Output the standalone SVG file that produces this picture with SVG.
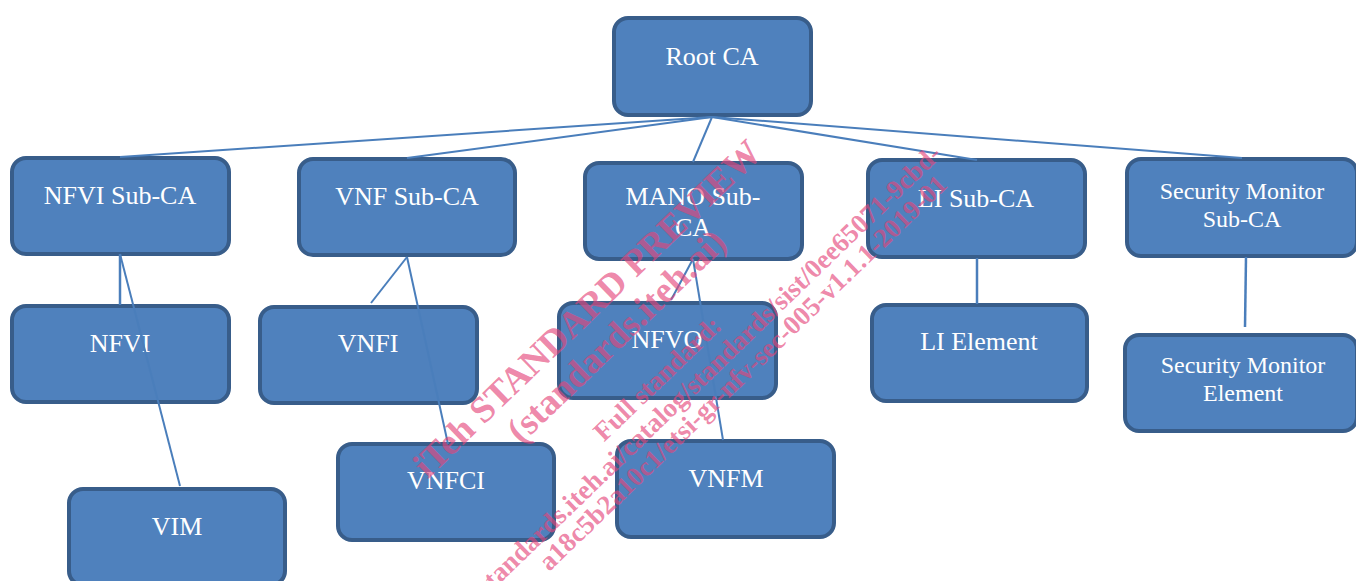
<svg xmlns="http://www.w3.org/2000/svg" width="1356" height="581" viewBox="0 0 1356 581">
<style>
.box{fill:#4f81bd;stroke:#385d8a;stroke-width:4}
.lbl{font-family:"Liberation Serif","Times New Roman",serif;font-size:26px;fill:#ffffff;text-anchor:middle}
.sm{font-size:24px}
.con line{stroke:#4a7ebb;stroke-width:2;fill:none}
.wm{font-family:"Liberation Serif","Times New Roman",serif;font-weight:bold;fill:#e4457a;fill-opacity:0.65}
</style>
<rect width="1356" height="581" fill="#ffffff"/>
<g id="root"><rect class="box" x="614" y="18" width="197" height="97" rx="14"/><text class="lbl" x="712" y="65">Root CA</text></g>
<g id="nfvi-sub-ca"><rect class="box" x="12" y="158" width="217" height="96" rx="14"/><text class="lbl" x="120" y="204">NFVI Sub-CA</text></g>
<g id="nfvi"><rect class="box" x="12" y="306" width="217" height="96" rx="14"/><text class="lbl" x="120" y="352">NFVI</text></g>
<g id="vim"><rect class="box" x="69" y="489" width="216" height="96" rx="14"/><text class="lbl" x="177" y="535">VIM</text></g>
<g id="vnf-sub-ca"><rect class="box" x="299" y="159" width="216" height="96" rx="14"/><text class="lbl" x="407" y="205">VNF Sub-CA</text></g>
<g id="vnfi"><rect class="box" x="260" y="307" width="217" height="96" rx="14"/><text class="lbl" x="368" y="352">VNFI</text></g>
<g id="vnfci"><rect class="box" x="338" y="444" width="216" height="96" rx="14"/><text class="lbl" x="446" y="489">VNFCI</text></g>
<g id="mano-sub-ca"><rect class="box" x="585" y="163" width="217" height="96" rx="14"/><text class="lbl" x="693" y="205">MANO Sub-</text><text class="lbl" x="693" y="236">CA</text></g>
<g id="nfvo"><rect class="box" x="559" y="303" width="217" height="95" rx="14"/><text class="lbl" x="667" y="348">NFVO</text></g>
<g id="vnfm"><rect class="box" x="617" y="441" width="217" height="96" rx="14"/><text class="lbl" x="726" y="487">VNFM</text></g>
<g id="li-sub-ca"><rect class="box" x="868" y="160" width="217" height="97" rx="14"/><text class="lbl" x="976" y="207">LI Sub-CA</text></g>
<g id="li-element"><rect class="box" x="872" y="305" width="215" height="96" rx="14"/><text class="lbl" x="979" y="350">LI Element</text></g>
<g id="sm-sub-ca"><rect class="box" x="1127" y="159" width="230" height="97" rx="14"/><text class="lbl sm" x="1242" y="199">Security Monitor</text><text class="lbl sm" x="1242" y="227">Sub-CA</text></g>
<g id="sm-element"><rect class="box" x="1125" y="335" width="232" height="96" rx="14"/><text class="lbl sm" x="1243" y="373">Security Monitor</text><text class="lbl sm" x="1243" y="401">Element</text></g>
<g id="connectors" class="con">
<line x1="712" y1="117" x2="120" y2="157"/>
<line x1="712" y1="117" x2="407" y2="158"/>
<line x1="712" y1="117" x2="693" y2="162"/>
<line x1="712" y1="117" x2="977" y2="160"/>
<line x1="712" y1="117" x2="1242" y2="158"/>
<line x1="120" y1="254" x2="120" y2="305" style="stroke-width:2.5"/>
<line x1="120" y1="254" x2="180" y2="486"/>
<line x1="407" y1="257" x2="371" y2="303"/>
<line x1="407" y1="257" x2="448" y2="444"/>
<line x1="693" y1="259" x2="671" y2="300"/>
<line x1="693" y1="259" x2="723" y2="440"/>
<line x1="977" y1="258" x2="977" y2="304" style="stroke-width:2.5"/>
<line x1="1246" y1="257" x2="1245" y2="327" style="stroke-width:2.5"/>
</g>
<g id="watermark" class="wm" transform="rotate(-44)">
<text x="208" y="642" font-size="37" text-anchor="middle">iTeh STANDARD PREVIEW</text>
<text x="210" y="682" font-size="37" text-anchor="middle">(standards.iteh.ai)</text>
<text x="210" y="738" font-size="27" text-anchor="middle">Full standard:</text>
<text x="570" y="767" font-size="27" text-anchor="end">https://standards.iteh.ai/catalog/standards/sist/0ee65071-9cbd-</text>
<text x="553" y="793" font-size="27" text-anchor="end">a18c5b2a10c1/etsi-gr-nfv-sec-005-v1.1.1-2019-01</text>
</g>
</svg>
